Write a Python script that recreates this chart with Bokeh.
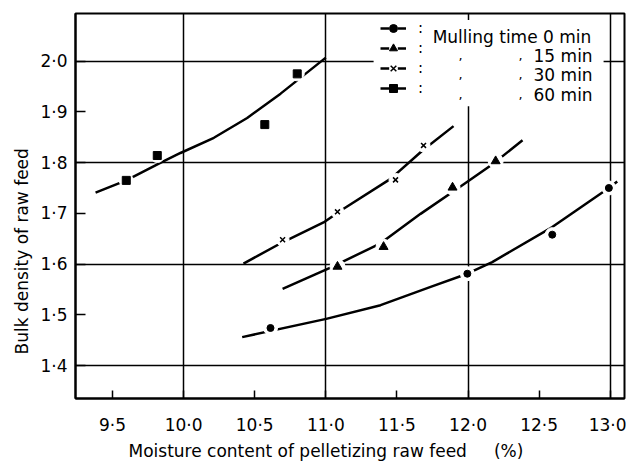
from bokeh.plotting import figure
from bokeh.models import (Range1d, FixedTicker, Label, BoxAnnotation, Legend,
                          LegendItem, Title)
from bokeh.embed import file_html
from bokeh.resources import INLINE

FONT = "DejaVu Sans"

# ---- measured points (mulling time series) ----
m0_x = [10.611, 11.995, 12.592, 12.990]
m0_y = [1.474, 1.581, 1.658, 1.750]
m15_x = [11.082, 11.406, 11.891, 12.194]
m15_y = [1.595, 1.634, 1.751, 1.803]
m30_x = [10.696, 11.082, 11.490, 11.687]
m30_y = [1.648, 1.703, 1.766, 1.834]
m60_x = [9.597, 9.815, 10.571, 10.799]
m60_y = [1.765, 1.814, 1.875, 1.975]

# ---- fitted curves ----
c0_x = [10.412, 11.003, 11.385, 11.737, 11.995, 12.170, 12.592, 12.990, 13.049]
c0_y = [1.456, 1.492, 1.519, 1.555, 1.581, 1.604, 1.673, 1.750, 1.763]
c15_x = [10.696, 11.033, 11.385, 11.666, 11.947, 12.172, 12.383]
c15_y = [1.551, 1.593, 1.641, 1.699, 1.753, 1.797, 1.844]
c30_x = [10.421, 10.696, 10.984, 11.125, 11.455, 11.680, 11.898]
c30_y = [1.601, 1.643, 1.682, 1.709, 1.768, 1.824, 1.872]
c60_x = [9.381, 9.597, 9.826, 9.978, 10.213, 10.447, 10.682, 11.000]
c60_y = [1.741, 1.765, 1.798, 1.819, 1.849, 1.888, 1.936, 2.007]

# ---- ticks ----
x_ticks = [9.5, 10.0, 10.5, 11.0, 11.5, 12.0, 12.5, 13.0]
x_tick_labels = ["9·5", "10·0", "10·5", "11·0", "11·5", "12·0", "12·5", "13·0"]
x_grid = [10.0, 11.0, 12.0, 13.0]
y_ticks = [1.4, 1.5, 1.6, 1.7, 1.8, 1.9, 2.0]
y_tick_labels = ["1·4", "1·5", "1·6", "1·7", "1·8", "1·9", "2·0"]
y_grid = [1.4, 1.6, 1.8, 2.0]

legend_first = "Mulling time 0 min"
legend_rest = ["15 min", "30 min", "60 min"]
ditto = ","
x_title = "Moisture content of pelletizing raw feed\u00a0\u00a0\u00a0\u00a0\u00a0(%)"
y_title = "Bulk density of raw feed"

p = figure(width=626, height=462, output_backend="svg", toolbar_location=None,
           x_range=Range1d(9.24, 13.10), y_range=Range1d(1.335, 2.094),
           min_border_left=75, min_border_right=2, min_border_top=13,
           min_border_bottom=55)
p.background_fill_color = "white"
p.border_fill_color = "white"
p.outline_line_color = "black"
p.outline_line_width = 2

for ax, ticks, labels in ((p.xaxis[0], x_ticks, x_tick_labels),
                          (p.yaxis[0], y_ticks, y_tick_labels)):
    ax.ticker = FixedTicker(ticks=ticks)
    ax.major_label_overrides = {t: l for t, l in zip(ticks, labels)}
    ax.minor_tick_line_color = None
    ax.major_tick_out = 0
    ax.axis_line_width = 2
    ax.axis_line_color = "black"
    ax.major_tick_line_width = 1.5
    ax.major_tick_line_color = "black"
    ax.major_label_text_font = FONT
    ax.major_label_text_font_size = "17px"
    ax.major_label_text_color = "black"
p.xaxis[0].major_label_standoff = 16
p.yaxis[0].major_label_standoff = 8
p.xaxis[0].major_tick_in = 8
p.yaxis[0].major_tick_in = 10

p.xgrid.ticker = FixedTicker(ticks=x_grid)
p.ygrid.ticker = FixedTicker(ticks=y_grid)
for g in (p.xgrid[0], p.ygrid[0]):
    g.grid_line_color = "black"
    g.grid_line_width = 1.5
    g.grid_line_alpha = 1.0

# axis titles
p.add_layout(Title(text=x_title, align="left", offset=53, standoff=3,
                   text_font=FONT, text_font_size="17px",
                   text_font_style="normal", text_color="black"), "below")
p.add_layout(Title(text=y_title, align="left", offset=44, standoff=11,
                   text_font=FONT, text_font_size="17px",
                   text_font_style="normal", text_color="black"), "left")

# white area behind legend, interrupting the grid lines
p.add_layout(BoxAnnotation(left=11.336, right=12.953, bottom=1.911, top=2.081,
                           fill_color="white", fill_alpha=1.0, line_alpha=0,
                           level="glyph"))

series = [
    (c0_x, c0_y, m0_x, m0_y, "circle", 7, 14),
    (c15_x, c15_y, m15_x, m15_y, "triangle", 9, 15),
    (c30_x, c30_y, m30_x, m30_y, "x", 7, 13),
    (c60_x, c60_y, m60_x, m60_y, "square", 8, 14),
]
items = []
for cx, cy, mx, my, mk, sz, hs in series:
    lr = p.line(cx, cy, line_color="black", line_width=2.5)
    hr = p.scatter(mx, my, marker="circle", size=hs, fill_color="white",
                   line_color="white")
    if mk == "x":
        mr = p.scatter(mx, my, marker=mk, size=sz, line_color="black",
                       line_width=1.5)
    else:
        mr = p.scatter(mx, my, marker=mk, size=sz, fill_color="black",
                       line_color="black")
    items.append(LegendItem(label=":", renderers=[lr, hr, mr]))

legend = Legend(items=items, location=(305, 300), glyph_width=26,
                glyph_height=20, label_height=20, label_standoff=12, spacing=0,
                padding=0, margin=0, border_line_alpha=0,
                background_fill_alpha=0, label_text_font=FONT,
                label_text_font_size="15px", label_text_color="black")
p.add_layout(legend)

# legend texts
row_y = [2.048, 2.011, 1.973, 1.934]
p.add_layout(Label(x=11.751, y=row_y[0], text=legend_first, text_font=FONT,
                   text_font_size="17px", text_baseline="middle",
                   text_align="left", text_color="black"))
for ry, t in zip(row_y[1:], legend_rest):
    for dx in (11.947, 12.369):
        p.add_layout(Label(x=dx, y=ry, text=ditto, text_font=FONT,
                           text_font_size="13px", text_baseline="middle",
                           text_align="center", text_color="black"))
    p.add_layout(Label(x=12.876, y=ry, text=t, text_font=FONT,
                       text_font_size="17px", text_baseline="middle",
                       text_align="right", text_color="black"))

open("out.html", "w").write(file_html(p, INLINE))
